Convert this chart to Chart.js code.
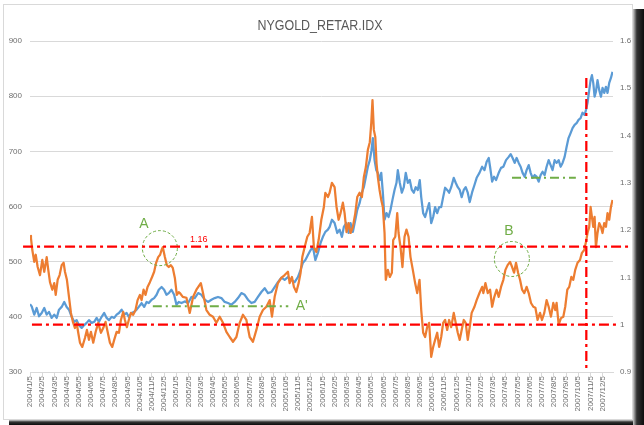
<!DOCTYPE html>
<html><head><meta charset="utf-8">
<script src="https://cdn.jsdelivr.net/npm/chart.js@4.4.1/dist/chart.umd.min.js"></script>
<style>html,body{margin:0;padding:0;background:#fff;}canvas{display:block;}</style>
</head><body>
<canvas id="c" width="644" height="425"></canvas>
<script>
const chartTitle = 'NYGOLD_RETAR.IDX';

const tickLabels = [
 '2004/1/5','2004/2/5','2004/3/5','2004/4/5','2004/5/5','2004/6/5','2004/7/5','2004/8/5','2004/9/5','2004/10/5','2004/11/5','2004/12/5',
 '2005/1/5','2005/2/5','2005/3/5','2005/4/5','2005/5/5','2005/6/5','2005/7/5','2005/8/5','2005/9/5','2005/10/5','2005/11/5','2005/12/5',
 '2006/1/5','2006/2/5','2006/3/5','2006/4/5','2006/5/5','2006/6/5','2006/7/5','2006/8/5','2006/9/5','2006/10/5','2006/11/5','2006/12/5',
 '2007/1/5','2007/2/5','2007/3/5','2007/4/5','2007/5/5','2007/6/5','2007/7/5','2007/8/5','2007/9/5','2007/10/5','2007/11/5','2007/12/5'
];

// NY gold (left axis), x in months since 2004/1/5
const blueMonths = [0,0.14,0.35,0.55,0.74,0.96,1.17,1.37,1.56,1.78,
 1.99,2.19,2.38,2.60,2.81,3.01,3.20,3.42,3.63,3.83,
 4.02,4.24,4.45,4.65,4.84,5.06,5.27,5.47,5.66,5.88,
 6.09,6.29,6.48,6.70,6.91,7.11,7.30,7.52,7.73,7.93,
 8.11,8.34,8.55,8.75,8.93,9.16,9.37,9.57,9.75,9.98,
 10.19,10.39,10.57,10.80,11.01,11.20,11.39,11.61,11.83,12.02,
 12.21,12.43,12.70,12.98,13.25,13.52,13.80,14.07,14.34,14.61,
 14.89,15.16,15.43,15.71,15.98,16.25,16.53,16.80,17.07,17.35,
 17.62,17.89,18.17,18.44,18.71,18.99,19.26,19.53,19.81,20.08,
 20.35,20.63,20.90,21.17,21.45,21.72,21.99,22.21,22.40,22.60,
 22.81,23.03,23.22,23.42,23.63,23.85,24.04,24.24,24.45,24.59,
 24.78,25.00,25.22,25.41,25.60,25.76,25.96,26.15,26.31,26.50,
 26.70,26.86,27.05,27.24,27.40,27.57,27.73,27.89,28.03,28.14,
 28.28,28.42,28.55,28.71,28.83,28.96,29.10,29.26,29.43,29.59,
 29.75,29.92,30.08,30.19,30.35,30.52,30.68,30.84,31.01,31.17,
 31.34,31.50,31.66,31.83,31.99,32.11,32.27,32.43,32.60,32.76,
 32.93,33.09,33.25,33.42,33.58,33.75,33.91,34.07,34.24,34.40,
 34.57,34.78,34.94,35.11,35.27,35.43,35.60,35.76,35.93,36.09,
 36.29,36.48,36.66,36.89,37.11,37.30,37.48,37.65,37.76,37.93,
 38.09,38.25,38.47,38.66,38.85,39.07,39.29,39.45,39.61,39.78,
 39.94,40.11,40.27,40.43,40.60,40.76,40.93,41.09,41.25,41.42,
 41.58,41.75,41.91,42.07,42.24,42.40,42.57,42.73,42.89,43.06,
 43.22,43.39,43.55,43.71,43.88,44.04,44.20,44.37,44.53,44.70,
 44.86,45.02,45.19,45.35,45.52,45.63,45.76,45.90,46.01,46.12,
 46.23,46.34,46.45,46.58,46.72,46.86,46.99,47.13,47.27,47.40,
 47.54,47.68,47.81];
const blueValues = [423,419,404,416,401,407,416,404,409,398,
 404,398,413,418,427,418,413,400,391,394,
 385,380,385,389,394,389,391,398,391,400,
 407,398,394,400,398,404,407,413,404,407,
 400,407,409,413,418,425,418,427,425,431,
 434,440,449,454,449,440,443,449,440,422,
 427,425,428,425,436,434,443,440,431,427,
 431,434,436,434,427,425,422,427,434,443,
 440,431,425,427,436,445,452,443,445,454,
 463,471,467,472,467,463,472,485,498,503,
 512,521,527,503,516,534,545,554,558,563,
 576,570,552,558,545,563,570,552,570,554,
 576,594,606,625,635,654,672,684,702,724,
 684,666,661,648,661,625,576,588,581,594,
 612,630,643,666,643,625,635,661,643,648,
 630,625,635,630,648,617,588,581,594,606,
 570,581,599,588,599,599,617,634,630,625,
 635,652,643,635,630,617,630,635,625,608,
 626,639,652,661,672,666,681,688,672,645,
 654,648,661,670,672,684,690,695,688,679,
 688,679,672,661,654,666,675,661,652,657,
 654,645,657,663,657,672,684,675,666,684,
 679,684,672,679,690,708,724,733,742,748,
 751,757,760,770,766,775,788,811,829,838,
 824,799,808,829,811,799,815,806,817,806,
 824,833,844];

// RETAR.IDX ratio (right axis)
const orangeMonths = [0,0.08,0.19,0.35,0.47,0.63,0.82,1.01,1.17,1.37,
 1.50,1.64,1.83,1.99,2.11,2.27,2.43,2.60,2.76,2.87,
 3.03,3.20,3.36,3.52,3.69,3.83,3.96,4.10,4.29,4.51,
 4.67,4.84,5.00,5.19,5.39,5.60,5.82,6.01,6.20,6.37,
 6.56,6.75,6.91,7.11,7.30,7.46,7.65,7.79,7.95,8.11,
 8.28,8.47,8.66,8.83,9.02,9.16,9.32,9.48,9.65,9.84,
 10.02,10.19,10.35,10.52,10.68,10.80,10.90,11.07,11.23,11.39,
 11.56,11.72,11.89,12.05,12.21,12.30,12.54,12.84,13.11,13.39,
 13.66,14.02,14.20,14.48,14.75,15.02,15.30,15.57,15.84,16.12,
 16.39,16.66,16.94,17.21,17.48,17.76,18.03,18.30,18.58,18.85,
 19.12,19.40,19.67,19.86,20.08,20.35,20.63,20.90,21.17,21.31,
 21.50,21.66,21.86,22.05,22.21,22.35,22.54,22.76,22.95,23.14,
 23.30,23.50,23.69,23.91,24.12,24.24,24.45,24.59,24.78,25.00,
 25.16,25.33,25.49,25.68,25.82,25.98,26.15,26.31,26.50,26.70,
 26.86,27.05,27.24,27.40,27.57,27.73,27.89,28.01,28.11,28.22,
 28.34,28.44,28.55,28.69,28.83,28.96,29.10,29.20,29.37,29.53,
 29.70,29.81,29.98,30.14,30.25,30.41,30.57,30.74,30.90,31.07,
 31.23,31.42,31.61,31.78,31.97,32.11,32.27,32.43,32.60,32.76,
 32.93,33.09,33.25,33.42,33.58,33.75,33.91,34.07,34.24,34.40,
 34.57,34.78,34.94,35.11,35.27,35.43,35.60,35.76,35.93,36.09,
 36.25,36.48,36.66,36.89,37.11,37.21,37.38,37.57,37.76,37.93,
 38.11,38.30,38.47,38.66,38.85,39.02,39.20,39.40,39.57,39.73,
 39.89,40.06,40.22,40.39,40.57,40.76,40.93,41.12,41.31,41.48,
 41.66,41.86,42.02,42.21,42.40,42.57,42.76,42.95,43.11,43.22,
 43.39,43.58,43.77,43.93,44.10,44.26,44.43,44.59,44.75,44.94,
 45.14,45.30,45.49,45.63,45.76,45.90,46.01,46.12,46.23,46.34,
 46.45,46.58,46.72,46.86,46.99,47.13,47.27,47.40,47.54,47.68,
 47.81];
const orangeValues = [1.188,1.183,1.158,1.133,1.148,1.122,1.105,1.137,1.112,1.143,
 1.116,1.090,1.074,1.088,1.063,1.095,1.105,1.126,1.131,1.112,
 1.095,1.059,1.025,1.006,0.993,1.004,0.983,0.962,0.953,0.972,
 0.989,0.968,0.985,0.962,0.985,1.004,0.983,0.993,1.006,0.985,
 0.962,0.953,0.968,0.985,0.983,1.010,1.027,1.010,0.995,1.010,
 1.025,1.021,1.031,1.052,1.063,1.052,1.074,1.063,1.080,1.090,
 1.101,1.112,1.131,1.143,1.148,1.158,1.164,1.143,1.126,1.122,
 1.126,1.120,1.099,1.063,1.069,1.067,1.059,1.057,1.025,1.059,
 1.074,1.088,1.067,1.031,1.021,1.017,1.004,1.017,1.004,0.985,
 0.974,0.964,0.974,1.004,1.021,1.010,0.974,0.964,0.989,1.017,
 1.031,1.038,1.052,1.017,1.059,1.088,1.099,1.105,1.112,1.088,
 1.101,1.080,1.069,1.088,1.110,1.143,1.164,1.186,1.194,1.228,
 1.164,1.154,1.179,1.222,1.249,1.279,1.270,1.279,1.300,1.291,
 1.249,1.222,1.236,1.258,1.236,1.196,1.215,1.194,1.207,1.236,
 1.270,1.279,1.270,1.312,1.334,1.370,1.386,1.427,1.475,1.412,
 1.397,1.342,1.312,1.285,1.264,1.249,1.194,1.095,1.116,1.101,
 1.110,1.179,1.186,1.236,1.194,1.164,1.122,1.186,1.201,1.186,
 1.143,1.116,1.088,1.067,1.095,1.031,0.983,0.974,0.995,1.004,
 0.932,0.953,0.968,0.983,0.953,0.974,1.004,1.010,0.989,1.010,
 0.995,1.025,1.004,0.983,0.968,0.989,1.010,1.004,0.968,0.995,
 1.025,1.038,1.052,1.067,1.080,1.067,1.088,1.067,1.074,1.038,
 1.059,1.074,1.059,1.080,1.095,1.116,1.126,1.133,1.122,1.110,
 1.131,1.110,1.095,1.074,1.067,1.080,1.067,1.046,1.038,1.036,
 1.010,1.025,1.010,1.025,1.052,1.038,1.017,1.046,1.031,1.046,
 1.000,1.014,1.017,1.038,1.074,1.080,1.101,1.095,1.116,1.131,
 1.137,1.152,1.158,1.175,1.194,1.207,1.249,1.228,1.207,1.228,
 1.164,1.194,1.215,1.207,1.194,1.215,1.207,1.236,1.222,1.249,
 1.264];

// hand-drawn annotations (value units)
const redLevels = [
  {value: 1.165, from: -0.57, to: 49.34},
  {value: 1.0, from: 0.16, to: 48.1}
];
const redVertical = {x: 45.66, from: 833, to: 300};
const greenLevels = [
  {value: 419, from: 10.08, to: 21.2},
  {value: 652, from: 39.56, to: 44.8}
];
const greenCircles = [{x: 10.66, y: 1.162}, {x: 39.55, y: 1.139}];
const notes = [
  {text: 'A', x: 9.34, y: 1.212, axis: 'yR', kind: 'green'},
  {text: "A'", x: 22.3, y: 419, axis: 'yL', kind: 'green'},
  {text: 'B', x: 39.3, y: 1.197, axis: 'yR', kind: 'green'},
  {text: '1.16', x: 13.85, y: 1.18, axis: 'yR', kind: 'red'}
];

const FONT = '"Liberation Sans", Arial, sans-serif';
Chart.defaults.font.family = FONT;
const GREEN = '#70ad47', RED = '#ff0000';

const decor = {
  id: 'decor',
  beforeDraw(chart) {
    const ctx = chart.ctx, W = chart.width, H = chart.height;
    ctx.save();
    ctx.fillStyle = '#fff';
    ctx.fillRect(0, 0, W, H);
    let g = ctx.createLinearGradient(633, 0, 644, 0);
    g.addColorStop(0, 'rgba(0,0,0,0.2)');
    g.addColorStop(0.35, 'rgba(0,0,0,0.8)');
    g.addColorStop(1, 'rgba(0,0,0,0.95)');
    ctx.fillStyle = g;
    ctx.fillRect(633, 9, 11, H - 9);
    g = ctx.createLinearGradient(0, 420, 0, 425);
    g.addColorStop(0, 'rgba(0,0,0,0.2)');
    g.addColorStop(0.4, 'rgba(0,0,0,0.8)');
    g.addColorStop(1, 'rgba(0,0,0,0.95)');
    ctx.fillStyle = g;
    ctx.fillRect(9, 420, 624, 5);
    ctx.strokeStyle = '#d9d9d9';
    ctx.lineWidth = 1;
    ctx.strokeRect(3.5, 4.5, 629, 415);
    ctx.font = '15px ' + FONT;
    ctx.fillStyle = '#595959';
    ctx.textAlign = 'center';
    ctx.textBaseline = 'alphabetic';
    const w = ctx.measureText(chartTitle).width;
    const sx = Math.min(1, 125 / w);
    ctx.translate(320, 30);
    ctx.scale(sx, 1);
    ctx.fillText(chartTitle, 0, 0);
    ctx.restore();
  },
  afterDatasetsDraw(chart) {
    const ctx = chart.ctx, xs = chart.scales.x, yl = chart.scales.yL, yr = chart.scales.yR;
    ctx.save();
    ctx.lineCap = 'butt';
    ctx.strokeStyle = GREEN; ctx.lineWidth = 2; ctx.setLineDash([9, 4, 2, 4]);
    greenLevels.forEach(l => {
      const y = yl.getPixelForValue(l.value);
      ctx.beginPath(); ctx.moveTo(xs.getPixelForValue(l.from), y); ctx.lineTo(xs.getPixelForValue(l.to), y); ctx.stroke();
    });
    ctx.lineWidth = 1; ctx.setLineDash([3, 2]);
    greenCircles.forEach(c => {
      ctx.beginPath(); ctx.arc(xs.getPixelForValue(c.x), yr.getPixelForValue(c.y), 17.5, 0, Math.PI * 2); ctx.stroke();
    });
    ctx.strokeStyle = RED; ctx.lineWidth = 2.25; ctx.setLineDash([10, 4, 3, 4]);
    redLevels.forEach(l => {
      const y = yr.getPixelForValue(l.value);
      ctx.beginPath(); ctx.moveTo(xs.getPixelForValue(l.from), y); ctx.lineTo(xs.getPixelForValue(l.to), y); ctx.stroke();
    });
    const vx = xs.getPixelForValue(redVertical.x);
    ctx.beginPath(); ctx.moveTo(vx, yl.getPixelForValue(redVertical.from)); ctx.lineTo(vx, yl.getPixelForValue(redVertical.to)); ctx.stroke();
    ctx.setLineDash([]);
    ctx.textAlign = 'center'; ctx.textBaseline = 'middle';
    notes.forEach(n => {
      const sc = n.axis === 'yL' ? yl : yr;
      ctx.fillStyle = n.kind === 'red' ? RED : GREEN;
      ctx.font = (n.kind === 'red' ? '9px ' : '14px ') + FONT;
      ctx.fillText(n.text, xs.getPixelForValue(n.x), sc.getPixelForValue(n.y));
    });
    ctx.restore();
  }
};

const LABEL = '#6e6e6e';
new Chart(document.getElementById('c'), {
  type: 'line',
  data: {
    datasets: [
      {label: 'RETAR.IDX', data: orangeMonths.map((m, i) => ({x: m, y: orangeValues[i]})), yAxisID: 'yR',
       borderColor: '#ed7d31', borderWidth: 2.25, pointRadius: 0, tension: 0, fill: false, order: 0, borderJoinStyle: 'round'},
      {label: 'NYGOLD', data: blueMonths.map((m, i) => ({x: m, y: blueValues[i]})), yAxisID: 'yL',
       borderColor: '#5b9bd5', borderWidth: 2.25, pointRadius: 0, tension: 0, fill: false, order: 1, borderJoinStyle: 'round'}
    ]
  },
  options: {
    responsive: false, animation: false, devicePixelRatio: 1,
    layout: {padding: {top: 41, left: 0, right: 0, bottom: 0}},
    plugins: {legend: {display: false}, tooltip: {enabled: false}, title: {display: false}},
    scales: {
      x: {
        type: 'linear', position: 'bottom', bounds: 'data', min: 0, max: 47.85,
        afterFit(s) { s.height = 53; },
        ticks: {stepSize: 1, autoSkip: false, includeBounds: false, maxRotation: 90, minRotation: 90, padding: 0,
          font: {size: 8}, color: LABEL,
          callback: v => (Number.isInteger(v) && tickLabels[v]) ? tickLabels[v] : ''},
        grid: {drawOnChartArea: false, drawTicks: true, tickLength: 4, color: '#d9d9d9'},
        border: {display: true, color: '#d9d9d9'}
      },
      yL: {
        type: 'linear', position: 'left', min: 300, max: 900,
        afterFit(s) { s.width = 30; },
        ticks: {stepSize: 100, padding: 8, font: {size: 8}, color: LABEL},
        grid: {color: '#d9d9d9', drawTicks: false},
        border: {display: false}
      },
      yR: {
        type: 'linear', position: 'right', min: 0.9, max: 1.6,
        afterFit(s) { s.width = 31; },
        ticks: {stepSize: 0.1, padding: 7, font: {size: 8}, color: LABEL,
          callback: v => String(Math.round(v * 10) / 10)},
        grid: {display: false, drawTicks: false},
        border: {display: false}
      }
    }
  },
  plugins: [decor]
});
</script>
</body></html>
